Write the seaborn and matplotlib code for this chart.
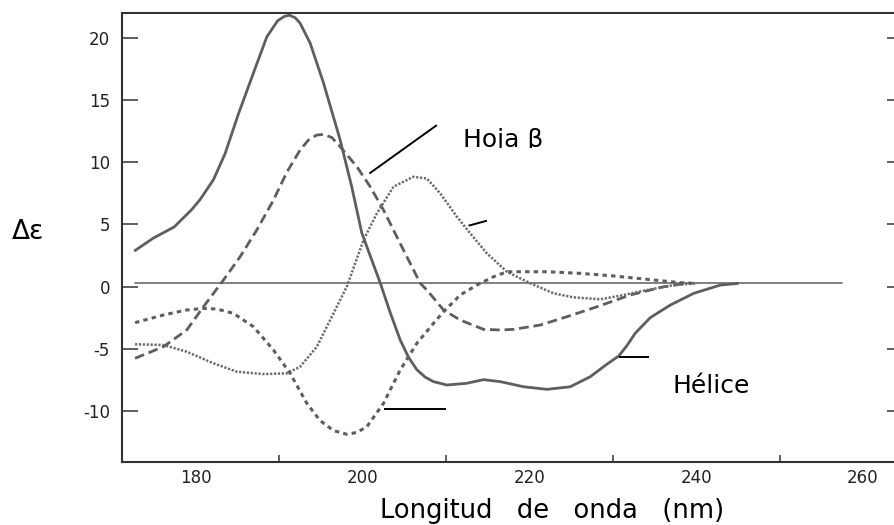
import numpy as np
import pandas as pd
import matplotlib
matplotlib.use("Agg")
import matplotlib.pyplot as plt
import seaborn as sns
from matplotlib.transforms import Bbox

# ---------------- data ----------------
helix_x = [172.7, 174.9, 177.4, 179.5, 180.5, 182.1, 183.5, 185.1, 186.9, 188.5, 189.8,
           190.6, 191.2, 191.9, 192.5, 193.7, 195.3, 197.3, 198.7, 199.9, 201.0, 202.1, 203.3, 204.5,
           205.5, 206.5, 207.5, 208.5, 210.1, 212.4, 214.5, 216.5, 219.3, 222.1, 224.9, 227.3, 229.3,
           230.7, 231.7, 232.7, 234.5, 236.9, 239.7, 242.9, 245.0]
helix_y = [2.9, 3.9, 4.8, 6.2, 7.0, 8.6, 10.7, 13.9, 17.2, 20.1, 21.4,
           21.75, 21.85, 21.65, 21.2, 19.6, 16.4, 11.8, 8.0, 4.3, 2.3, 0.3, -2.1, -4.3,
           -5.7, -6.7, -7.3, -7.66, -7.93, -7.8, -7.5, -7.66, -8.07, -8.28, -8.07, -7.26, -6.25,
           -5.6, -4.75, -3.75, -2.5, -1.49, -0.55, 0.12, 0.25]

sheet_x = [172.7, 176.1, 178.9, 180.9, 183.3, 185.3, 187.3, 189.3, 190.9, 192.5, 193.5,
           194.5, 195.3, 196.3, 197.3, 199.3, 200.9, 202.5, 204.1, 205.7, 206.9, 207.7,
           209.7, 211.7, 214.5, 216.5, 218.1, 221.3, 224.5, 228.1, 232.1, 236.1, 238.9]
sheet_y = [-5.78, -4.85, -3.5, -1.63, 0.52, 2.4, 4.55, 6.96, 9.2, 11.0, 11.8,
           12.2, 12.25, 12.0, 11.26, 9.65, 8.04, 6.16, 4.0, 1.87, 0.26, -0.28,
           -1.89, -2.7, -3.45, -3.5, -3.45, -3.1, -2.43, -1.63, -0.68, -0.02, 0.26]

dotted_x = [172.7, 176.1, 178.9, 182.1, 184.9, 188.1, 190.9, 192.5, 194.5, 196.5, 198.1,
            200.1, 201.7, 203.7, 206.1, 207.7, 209.3, 211.3, 212.9, 214.9, 217.3, 220.1,
            222.9, 225.3, 228.5, 231.3, 234.1, 237.3, 240.1]
dotted_y = [-4.65, -4.71, -5.25, -6.18, -6.86, -7.05, -6.99, -6.46, -4.85, -2.16, 0.0,
            3.74, 5.89, 8.04, 8.84, 8.7, 7.5, 5.62, 4.28, 2.67, 1.19, 0.26,
            -0.55, -0.87, -1.03, -0.68, -0.28, 0.12, 0.26]

dash_x = [172.7, 176.1, 178.9, 180.9, 182.5, 184.5, 186.9, 189.3, 191.3, 193.3, 194.9,
          196.5, 198.1, 199.3, 200.5, 202.5, 204.5, 206.5, 208.5, 209.7, 211.7, 213.7,
          215.7, 217.3, 222.1, 226.1, 230.1, 234.1, 238.1, 240.0]
dash_y = [-2.91, -2.29, -1.89, -1.76, -1.81, -2.16, -3.24, -5.11, -6.99, -9.4, -10.8,
          -11.6, -11.9, -11.75, -11.29, -9.4, -6.72, -4.57, -2.96, -2.03, -0.68, 0.12,
          0.79, 1.19, 1.19, 1.06, 0.85, 0.58, 0.31, 0.25]

base_x = [172.7, 257.5]
base_y = [0.25, 0.25]

x_ticks = [180, 200, 220, 240, 260]
x_minor = [190, 210, 230, 250]
y_ticks = [-10, -5, 0, 5, 10, 15, 20]
y_ticklabels = ["-10", "-5", "0", "5", "10", "15", "20"]

label_sheet = "Hoja β"
label_helix = "Hélice"
x_label = "Longitud   de   onda   (nm)"
y_label = "Δε"

# pointer segments (x0, y0, x1, y1)
pointers = [(200.8, 9.1, 208.9, 13.0),
            (212.7, 4.9, 214.9, 5.3),
            (202.5, -9.87, 210.0, -9.87),
            (230.7, -5.68, 234.3, -5.68)]

# ---------------- drawing ----------------
sns.set_theme(style="white")
plt.rcParams["font.family"] = ["DejaVu Sans"]
plt.rcParams["lines.scale_dashes"] = False

fig = plt.figure(figsize=(8.95, 5.25), dpi=100)
ax = fig.add_axes([121.7 / 895, (525 - 462) / 525, (903 - 121.7) / 895, (462 - 12.7) / 525])

curve_col = "#5e5e5e"
sns.lineplot(x=base_x, y=base_y, ax=ax, color="#777777", linewidth=1.3, sort=False, estimator=None)
sns.lineplot(x=helix_x, y=helix_y, ax=ax, color=curve_col, linewidth=2.0, sort=False, estimator=None)
sns.lineplot(x=sheet_x, y=sheet_y, ax=ax, color=curve_col, linewidth=2.0, sort=False,
             estimator=None, linestyle=(0, (7, 3.5)))
sns.lineplot(x=dotted_x, y=dotted_y, ax=ax, color="#6a6a6a", linewidth=1.8, sort=False,
             estimator=None, linestyle=(0, (1.6, 1.2)))
sns.lineplot(x=dash_x, y=dash_y, ax=ax, color=curve_col, linewidth=2.2, sort=False,
             estimator=None, linestyle=(0, (3.2, 3.0)))

for (x0, y0, x1, y1) in pointers:
    ax.plot([x0, x1], [y0, y1], color="black", linewidth=1.4, solid_capstyle="butt")

ax.set_xlim(171.1, 264.8)
ax.set_ylim(-14.13, 22.05)

ax.set_xticks(x_ticks)
ax.set_xticks(x_minor, minor=True)
ax.set_yticks(y_ticks)
ax.set_yticklabels(y_ticklabels)

ax.tick_params(axis="x", which="major", direction="in", length=8.6, width=1.1,
               color="#333333", labelsize=12, pad=5, labelcolor="#222222")
ax.tick_params(axis="x", which="minor", direction="in", length=5, width=1.1,
               color="#333333", bottom=True)
ax.tick_params(axis="y", which="major", direction="in", length=11.5, width=1.1,
               color="#333333", labelsize=12, pad=8.5, left=True, right=True,
               labelcolor="#222222")

for side in ["left", "top", "bottom", "right"]:
    ax.spines[side].set_visible(True)
    ax.spines[side].set_color("#333333")
    ax.spines[side].set_linewidth(1.5)

ax.set_xlabel("")
ax.set_ylabel("")

t = ax.text(212.0, 11.2, label_sheet, fontsize=18, va="baseline", ha="left", color="black")
t.set_clip_on(True)
t.set_clip_box(Bbox.from_extents(0, 525 - 148, 895, 525))

ax.text(237.2, -8.6, label_helix, fontsize=18, va="baseline", ha="left", color="black")

fig.text(11.7 / 895, (525 - 239) / 525, y_label, fontsize=19, va="baseline", ha="left", color="black")
fig.text(380 / 895, (525 - 518) / 525, x_label, fontsize=18.5, va="baseline", ha="left", color="black")

fig.savefig("out.png", dpi=100, facecolor="white")
